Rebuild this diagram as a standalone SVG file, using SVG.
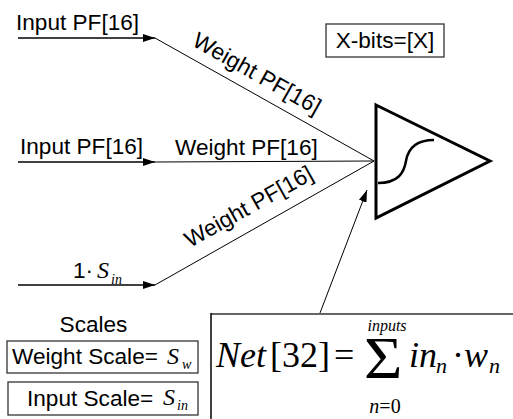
<svg xmlns="http://www.w3.org/2000/svg" width="513" height="419" viewBox="0 0 513 419">
<style>
.lbl{font-family:"Liberation Sans",Arial,sans-serif;font-size:22.6px;fill:#000}
.math{font-family:"Liberation Serif","Times New Roman",serif;font-style:italic;fill:#000}
.rm{font-family:"Liberation Serif","Times New Roman",serif;font-style:normal;fill:#000}
.wire{stroke:#000;stroke-width:1.3;fill:none}
.thin{stroke:#000;stroke-width:1;fill:none}
.box{fill:#fff;stroke:#333;stroke-width:1.3}
</style>
<defs>
<marker id="ah" viewBox="0 0 12 8" refX="12" refY="4" markerWidth="12" markerHeight="8" markerUnits="userSpaceOnUse" orient="auto">
<path d="M0,0 L12,4 L0,8 Z" fill="#000"/>
</marker>
</defs>
<rect width="513" height="419" fill="#fff"/>
<g id="connectors">
<path class="wire" d="M18,38 L155,38" marker-end="url(#ah)"/>
<path class="wire" d="M18,162 L155,162" marker-end="url(#ah)"/>
<path class="wire" d="M18,285 L155,285" marker-end="url(#ah)"/>
<path class="thin" d="M155,38 L374,161"/>
<path class="thin" d="M155,162 L374,161"/>
<path class="thin" d="M155,285 L374,161"/>
<path class="thin" d="M320,313 L367,190" marker-end="url(#ah)"/>
</g>
<g id="input1"><text class="lbl" x="16" y="30">Input PF[16]</text></g>
<g id="input2"><text class="lbl" x="20" y="154">Input PF[16]</text></g>
<g id="input3"><text class="lbl" x="73" y="278">1·</text><text class="math" x="97" y="278" font-size="24">S</text><text class="math" x="111" y="284" font-size="14">in</text></g>
<g id="weight1"><text class="lbl" transform="translate(191,45) rotate(29.4)">Weight PF[16]</text></g>
<g id="weight2"><text class="lbl" x="175" y="155">Weight PF[16]</text></g>
<g id="weight3"><text class="lbl" transform="translate(190,248) rotate(-29.2)">Weight PF[16]</text></g>
<g id="neuron">
<path d="M376,105 L490,161 L376,218 Z" fill="#fff" stroke="#000" stroke-width="3" stroke-linejoin="miter"/>
<path d="M378,183 C398,183 404,173 406,161 C408,149 415,140 434,140" fill="none" stroke="#000" stroke-width="2.5"/>
</g>
<g id="xbits"><rect class="box" x="326" y="24" width="118" height="33"/><text class="lbl" x="385" y="48" text-anchor="middle">X-bits=[X]</text></g>
<g id="scales">
<text class="lbl" x="93.5" y="332" text-anchor="middle">Scales</text>
<rect class="box" x="7" y="341" width="191" height="32"/>
<text class="lbl" x="12" y="364">Weight Scale=</text><text class="math" x="167" y="364" font-size="24">S</text><text class="math" x="182" y="369" font-size="14">w</text>
<rect class="box" x="8" y="382" width="190" height="33"/>
<text class="lbl" x="27" y="406">Input Scale=</text><text class="math" x="163" y="405" font-size="24">S</text><text class="math" x="177" y="410" font-size="14">in</text>
</g>
<g id="formula">
<path d="M211,314 L513,314" stroke="#666" stroke-width="2" fill="none"/>
<path d="M211,313 L211,419" stroke="#000" stroke-width="1.5" fill="none"/>
<text class="math" x="216" y="367" font-size="36">Net</text>
<text class="rm" x="270" y="367" font-size="36">[32]</text>
<text class="rm" x="334" y="367" font-size="36">=</text>
<text class="rm" x="364" y="378" font-size="60" transform="translate(364,0) scale(1.1,1) translate(-364,0)">Σ</text>
<text class="math" x="387" y="331" font-size="16" text-anchor="middle">inputs</text>
<text class="math" x="385" y="413" font-size="20" text-anchor="middle">n<tspan class="rm">=0</tspan></text>
<text class="math" x="409" y="367" font-size="36">in</text>
<text class="math" x="436" y="373" font-size="22">n</text>
<text class="rm" x="452" y="367" font-size="36">·</text>
<text class="math" x="464" y="367" font-size="36">w</text>
<text class="math" x="489" y="373" font-size="22">n</text>
</g>
</svg>
